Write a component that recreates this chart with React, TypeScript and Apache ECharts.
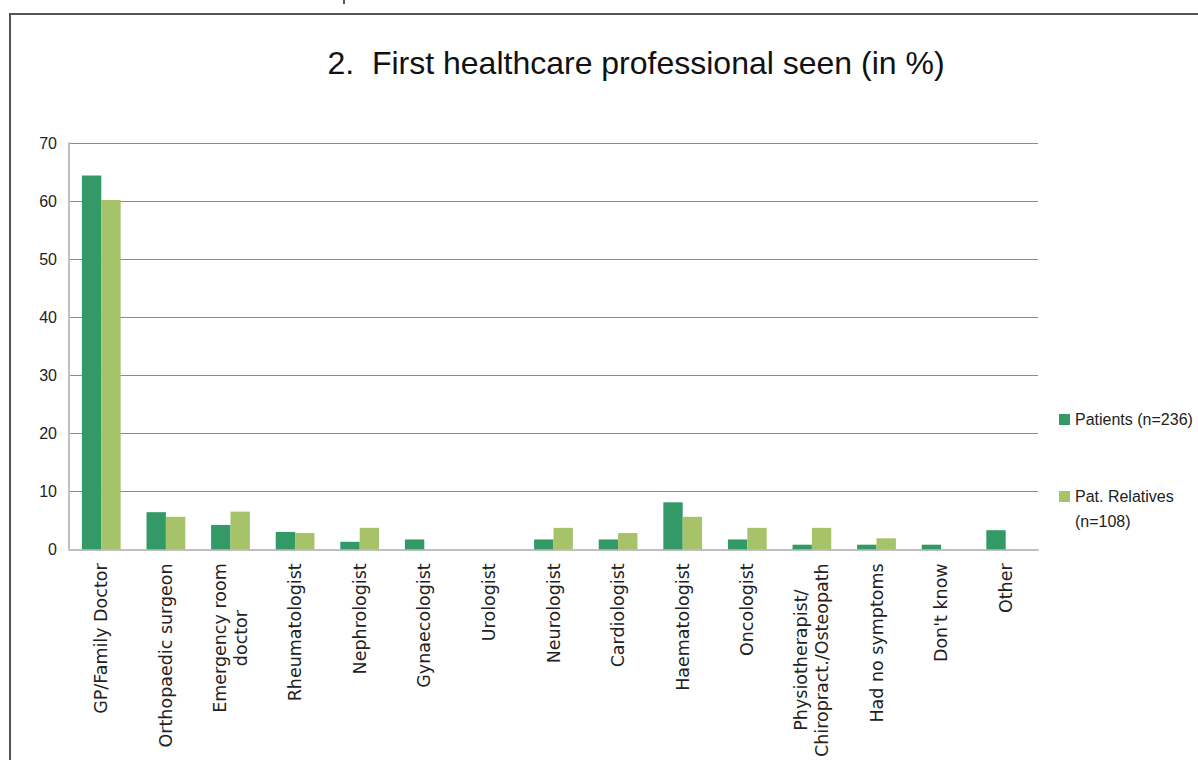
import React, { useEffect, useRef } from "react";
import * as echarts from "echarts";

const categories = [
  "GP/Family Doctor",
  "Orthopaedic surgeon",
  "Emergency room\ndoctor",
  "Rheumatologist",
  "Nephrologist",
  "Gynaecologist",
  "Urologist",
  "Neurologist",
  "Cardiologist",
  "Haematologist",
  "Oncologist",
  "Physiotherapist/\nChiropract./Osteopath",
  "Had no symptoms",
  "Don't know",
  "Other",
];
const patients = [64.4, 6.4, 4.2, 3.0, 1.3, 1.7, 0, 1.7, 1.7, 8.1, 1.7, 0.8, 0.8, 0.8, 3.3];
const relatives = [60.2, 5.6, 6.5, 2.8, 3.7, 0, 0, 3.7, 2.8, 5.6, 3.7, 3.7, 1.9, 0, 0];
const seriesNames = ["Patients (n=236)", "Pat. Relatives\n(n=108)"];
const yTicks = [0, 10, 20, 30, 40, 50, 60, 70];
const title = "2.  First healthcare professional seen (in %)";

const FONT = "'Liberation Sans', Arial, sans-serif";
const XFONT = "'DejaVu Sans', Verdana, sans-serif";
const XSIZE = 17.5;

function measure(text: string, font: string): number {
  const c = document.createElement("canvas").getContext("2d");
  if (!c) return text.length * 9;
  c.font = font;
  return c.measureText(text).width;
}

export default function App() {
  const ref = useRef<HTMLDivElement>(null);
  useEffect(() => {
    if (!ref.current) return;
    const chart = echarts.init(ref.current, null, { renderer: "svg" });
    const xData = categories.map((c) => {
      if (c.indexOf("\n") < 0) return c;
      const w = Math.max(...c.split("\n").map((l) => measure(l, `${XSIZE}px "DejaVu Sans"`)));
      return { value: c, textStyle: { align: "center", padding: [0, w, 0, 0] } };
    });
    const legendCommon = {
      orient: "vertical",
      left: 1059,
      padding: 0,
      itemWidth: 11,
      itemHeight: 11,
      icon: "rect",
      textStyle: { fontSize: 16, color: "#222", fontFamily: FONT, lineHeight: 25 },
    };
    chart.setOption({
      animation: false,
      backgroundColor: "#ffffff",
      textStyle: { fontFamily: FONT },
      title: {
        text: title,
        left: 631,
        top: 42,
        textAlign: "center",
        textStyle: { fontSize: 32, fontWeight: "normal", color: "#111", fontFamily: FONT },
      },
      legend: [
        { ...legendCommon, top: 407, data: [seriesNames[0]] },
        {
          ...legendCommon,
          top: 459,
          data: [seriesNames[1]],
          formatter: (name: string) => "\n" + name,
        },
      ],
      grid: { left: 69, top: 143, width: 969, height: 407, containLabel: false },
      xAxis: {
        type: "category",
        data: xData,
        axisLine: { lineStyle: { color: "#bfbfbf", width: 2 } },
        axisTick: { show: false },
        axisLabel: {
          rotate: 90,
          interval: 0,
          margin: 14,
          fontSize: XSIZE,
          color: "#222",
          fontFamily: XFONT,
          lineHeight: 21,
          align: "right",
        },
      },
      yAxis: {
        type: "value",
        min: yTicks[0],
        max: yTicks[yTicks.length - 1],
        interval: yTicks[1] - yTicks[0],
        axisLine: { show: true, lineStyle: { color: "#bfbfbf", width: 2 } },
        axisTick: { show: false },
        splitLine: { lineStyle: { color: "#8c8c8c", width: 1 } },
        axisLabel: { fontSize: 16, color: "#222", margin: 12, fontFamily: FONT },
      },
      series: [
        {
          name: seriesNames[0],
          type: "bar",
          data: patients,
          barWidth: "30%",
          barGap: "0%",
          barCategoryGap: "40%",
          itemStyle: { color: "#339966" },
        },
        {
          name: seriesNames[1],
          type: "bar",
          data: relatives,
          barWidth: "30%",
          barGap: "0%",
          barCategoryGap: "40%",
          itemStyle: { color: "#a6c36a" },
        },
      ],
      graphic: [
        { type: "line", shape: { x1: 9, y1: 14, x2: 1198, y2: 14 }, style: { stroke: "#555", lineWidth: 2 } },
        { type: "line", shape: { x1: 10, y1: 14, x2: 10, y2: 760 }, style: { stroke: "#555", lineWidth: 2 } },
        { type: "rect", shape: { x: 343, y: 0, width: 2, height: 4 }, style: { fill: "#555" } },
      ],
    });
    return () => chart.dispose();
  }, []);
  return <div ref={ref} style={{ position: "fixed", left: 0, top: 0, width: 1198, height: 760 }} />;
}
